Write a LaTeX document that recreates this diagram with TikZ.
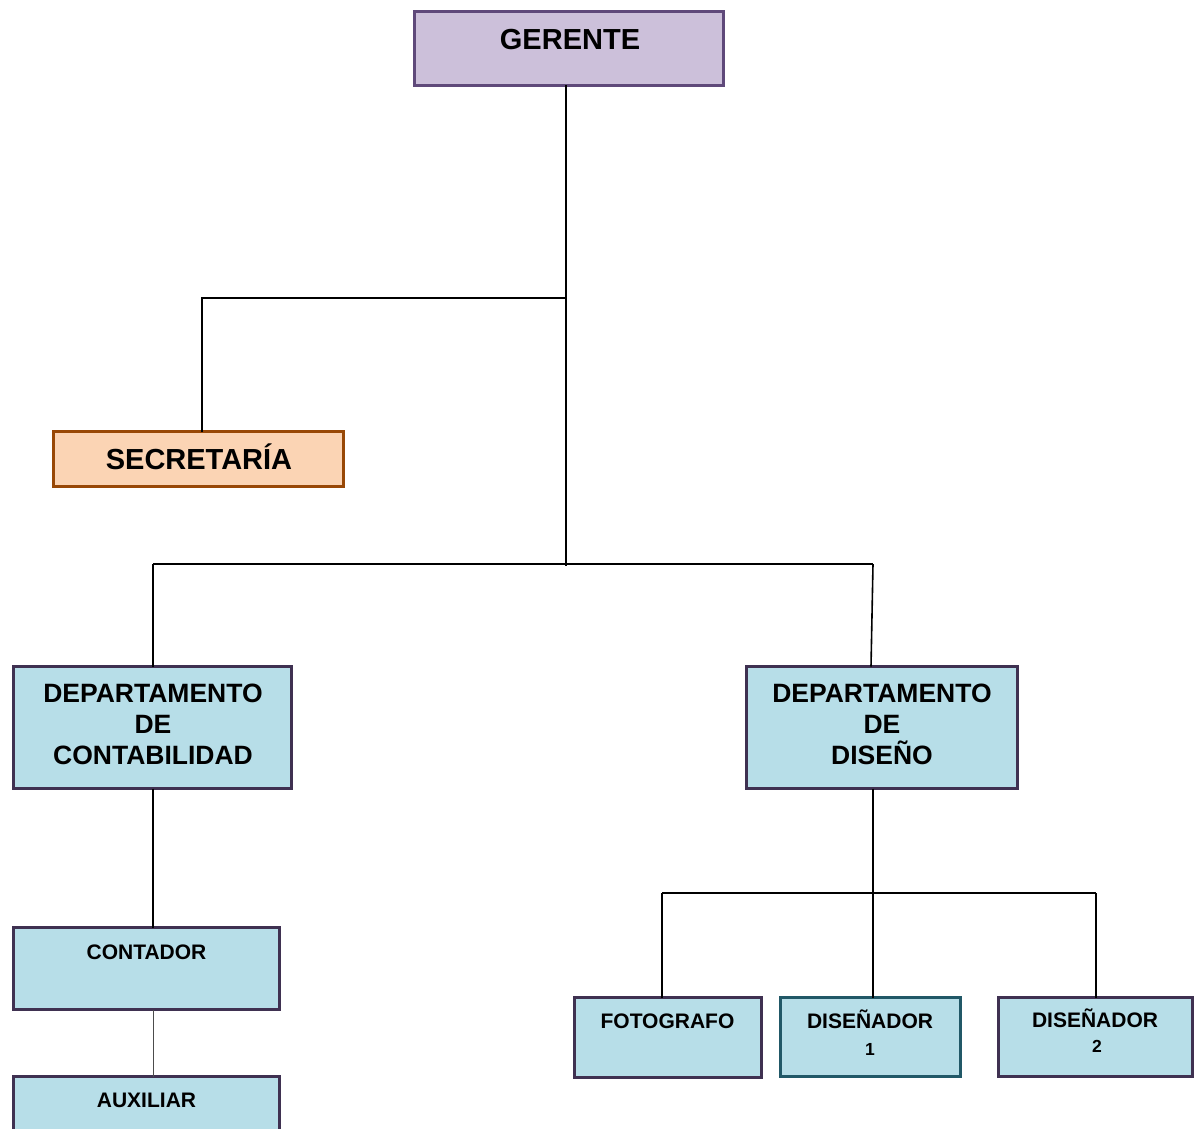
\documentclass[tikz,border=0pt]{standalone}
\usepackage{fontspec}
\setmainfont{Liberation Sans}
\definecolor{gfill}{HTML}{CCC0DA}
\definecolor{gline}{HTML}{5F497A}
\definecolor{sfill}{HTML}{FBD4B4}
\definecolor{sline}{HTML}{984806}
\definecolor{bfill}{HTML}{B7DEE8}
\definecolor{bline}{HTML}{3F3151}
\definecolor{tline}{HTML}{215867}
\tikzset{
  box/.style={draw=bline, fill=bfill, line width=3.4pt, rectangle, inner sep=0pt, outer sep=0pt, anchor=north west},
  conn/.style={draw=black, line width=1.6pt},
  thinconn/.style={draw=black!70, line width=0.9pt},
  txt/.style={anchor=base, inner sep=0pt, font=\bfseries\fontsize{#1}{#1}\selectfont},
}
\begin{document}
\begin{tikzpicture}[x=1pt,y=-1pt]
\clip (0,0) rectangle (1199,1129);
\fill[white] (0,0) rectangle (1199,1129);
% boxes
\node[box, draw=gline, fill=gfill, minimum width=309pt, minimum height=74pt] (ger) at (414.5,11.5) {};
\node[box, draw=sline, fill=sfill, minimum width=290pt, minimum height=55pt] (sec) at (53.5,431.5) {};
\node[box, minimum width=278pt, minimum height=122pt] (dcon) at (13.5,666.5) {};
\node[box, minimum width=271pt, minimum height=122pt] (ddis) at (746.5,666.5) {};
\node[box, minimum width=266pt, minimum height=82pt] (cont) at (13.5,927.5) {};
\node[box, minimum width=266pt, minimum height=80pt] (aux) at (13.5,1076.5) {};
\node[box, minimum width=187pt, minimum height=80pt] (foto) at (574.5,997.5) {};
\node[box, draw=tline, minimum width=180pt, minimum height=79pt] (dis1) at (780.5,997.5) {};
\node[box, minimum width=194pt, minimum height=79pt] (dis2) at (998.5,997.5) {};
% texts
\node[txt=29] (tger) at (570,50) {GERENTE};
\node[txt=29] (tsec) at (199,469) {SECRETARÍA};
\node[txt=26.5] (tdc1) at (153,702) {DEPARTAMENTO};
\node[txt=26.5] (tdc2) at (153,733) {DE};
\node[txt=26.5] (tdc3) at (153,764) {CONTABILIDAD};
\node[txt=26.5] (tdd1) at (882,702) {DEPARTAMENTO};
\node[txt=26.5] (tdd2) at (882,733) {DE};
\node[txt=26.5] (tdd3) at (882,764) {DISEÑO};
\node[txt=21] (tcont) at (146.5,959) {CONTADOR};
\node[txt=21] (taux) at (146.5,1107) {AUXILIAR};
\node[txt=21] (tfoto) at (667.5,1028) {FOTOGRAFO};
\node[txt=21] (td1) at (870,1028) {DISEÑADOR};
\node[txt=17.5] (td1n) at (870,1055) {1};
\node[txt=21] (td2) at (1095,1027) {DISEÑADOR};
\node[txt=17.5] (td2n) at (1097,1052) {2};
% junction coordinates
\coordinate (trunk) at (566,566);
\coordinate (bsec) at (566,298);
\coordinate (secj) at (202,298);
\coordinate (hl) at (153,564);
\coordinate (hr) at (873,564);
\coordinate (dj) at (873,893);
\coordinate (djl) at (662,893);
\coordinate (djr) at (1096,893);
% connectors
\draw[conn] (ger.south -| trunk) -- (trunk);
\draw[conn] (bsec) -- (secj) -- (secj |- sec.north);
\draw[conn] (hl) -- (hr);
\draw[conn] (hl) -- (hl |- dcon.north);
\draw[conn] (hr) -- (871,665 |- ddis.north);
\draw[conn] (dcon.south -| hl) -- (hl |- cont.north);
\draw[thinconn] (cont.south -| hl) -- (hl |- aux.north);
\draw[conn] (ddis.south -| dj) -- (dj |- dis1.north);
\draw[conn] (djl) -- (djr);
\draw[conn] (djl) -- (djl |- foto.north);
\draw[conn] (djr) -- (djr |- dis2.north);
\end{tikzpicture}
\end{document}
